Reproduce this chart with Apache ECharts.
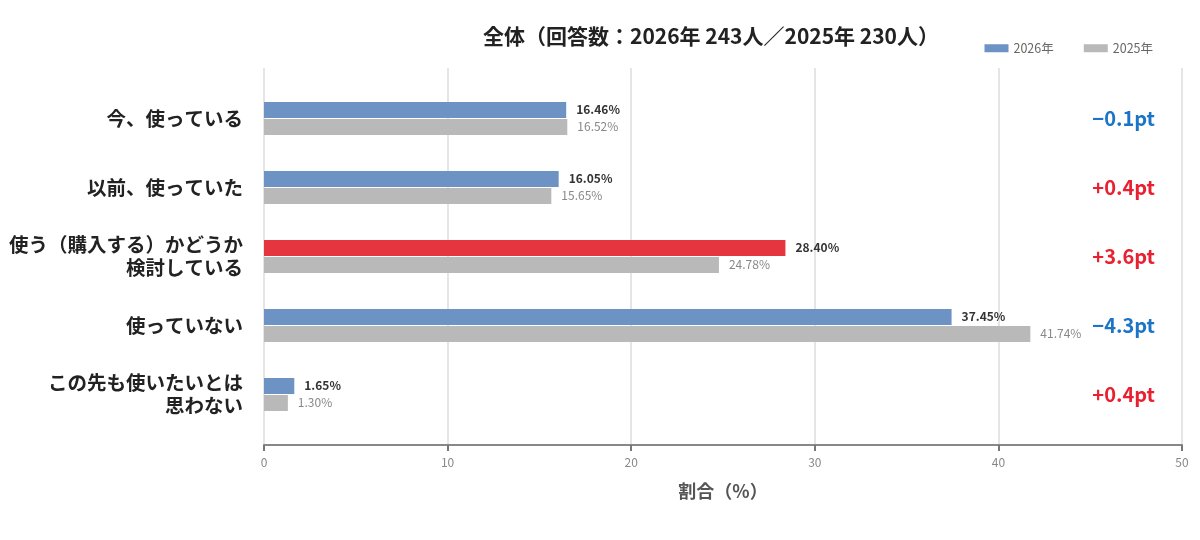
<!DOCTYPE html>
<html>
<head>
<meta charset="utf-8">
<script src="https://cdn.jsdelivr.net/npm/echarts@6/dist/echarts.min.js"></script>
<style>
  html, body { margin: 0; padding: 0; background: #fff; }
  #chart { width: 1200px; height: 540px; }
</style>
</head>
<body>
<div id="chart"></div>
<script>
// 回答カテゴリ
var categories = ['今、使っている', '以前、使っていた', '使う（購入する）かどうか\n検討している', '使っていない', 'この先も使いたいとは\n思わない'];
var values2026 = [16.46, 16.05, 28.40, 37.45, 1.65];
var values2025 = [16.52, 15.65, 24.78, 41.74, 1.30];
var deltas = ['−0.1pt', '+0.4pt', '+3.6pt', '−4.3pt', '+0.4pt'];
var highlightIndex = 2;
var xTicks = [0, 10, 20, 30, 40, 50];

var FONT = '"Noto Sans CJK JP", "Noto Sans", sans-serif';
var BLUE = '#6c93c3', GRAY = '#b9b9b9', RED = '#e5363f';

var data2026 = values2026.map(function (v, i) {
  return i === highlightIndex ? { value: v, itemStyle: { color: RED } } : v;
});

var chart = echarts.init(document.getElementById('chart'));
var option = {
  backgroundColor: '#fff',
  textStyle: { fontFamily: FONT },
  title: {
    text: '全体（回答数：2026年 243人／2025年 230人）',
    left: 478, top: 21,
    textStyle: { fontSize: 21, fontWeight: 'bold', color: '#222', fontFamily: FONT }
  },
  legend: {
    right: 42, top: 37,
    icon: 'rect', itemWidth: 24, itemHeight: 8, itemGap: 30,
    textStyle: { fontSize: 12.5, color: '#666', fontFamily: FONT },
    data: [{ name: '2026年', itemStyle: { color: BLUE } }, { name: '2025年', itemStyle: { color: GRAY } }]
  },
  grid: [
    { left: 264, right: 18, top: 68, height: 377 },
    { left: 264, right: 18, top: 84, height: 345 }
  ],
  xAxis: [
    {
      gridIndex: 0, type: 'value', min: xTicks[0], max: xTicks[xTicks.length - 1], interval: 10,
      name: '割合（%）', nameLocation: 'middle', nameGap: 37,
      nameTextStyle: { fontSize: 18, fontWeight: 'bold', color: '#555', fontFamily: FONT },
      axisLine: { show: true, lineStyle: { color: '#888', width: 2 } },
      axisTick: { show: true, length: 6, lineStyle: { color: '#777', width: 2 } },
      axisLabel: { color: '#888', fontSize: 12, margin: 11 },
      splitLine: { show: true, lineStyle: { color: '#dcdcdc', width: 1.5 } }
    },
    {
      gridIndex: 1, type: 'value', min: 0, max: 50, show: false
    }
  ],
  yAxis: [
    { gridIndex: 0, type: 'value', min: 0, max: 1, show: false },
    {
      gridIndex: 1, type: 'category', inverse: true, data: categories,
      axisLine: { show: false }, axisTick: { show: false },
      axisLabel: { fontSize: 19.5, fontWeight: 'bold', color: '#222', margin: 21, lineHeight: 23, align: 'right' }
    },
    {
      gridIndex: 1, type: 'category', inverse: true, position: 'right', data: deltas,
      axisLine: { show: false }, axisTick: { show: false },
      axisLabel: {
        inside: true, margin: 27,
        formatter: function (v) { return v.charAt(0) === '+' ? '{up|' + v + '}' : '{down|' + v + '}'; },
        rich: {
          up: { color: '#e8202f', fontSize: 20, fontWeight: 'bold', fontFamily: FONT },
          down: { color: '#1c74c6', fontSize: 20, fontWeight: 'bold', fontFamily: FONT }
        }
      }
    }
  ],
  series: [
    {
      name: '2026年', type: 'bar', xAxisIndex: 1, yAxisIndex: 1,
      data: data2026, barWidth: 16, barGap: '6%',
      itemStyle: { color: BLUE },
      label: { show: true, position: 'right', distance: 10, formatter: function (p) { return p.value.toFixed(2) + '%'; },
        fontSize: 12, fontWeight: 'bold', color: '#333', offset: [0, -1] }
    },
    {
      name: '2025年', type: 'bar', xAxisIndex: 1, yAxisIndex: 1,
      data: values2025, barWidth: 16,
      itemStyle: { color: GRAY },
      label: { show: true, position: 'right', distance: 10, formatter: function (p) { return p.value.toFixed(2) + '%'; },
        fontSize: 12, color: '#888', offset: [0, -1] }
    }
  ]
};
chart.setOption(option);
</script>
</body>
</html>
